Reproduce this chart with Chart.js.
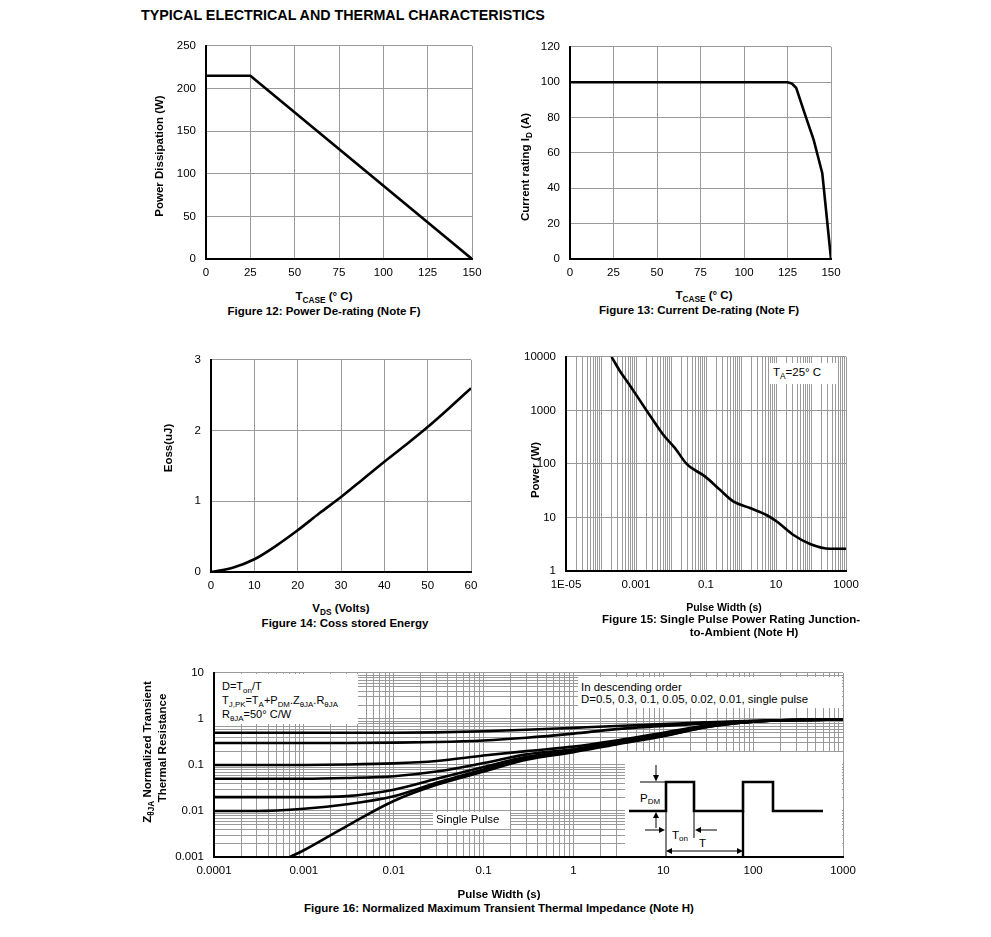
<!DOCTYPE html>
<html><head><meta charset="utf-8">
<script src="https://cdn.jsdelivr.net/npm/chart.js@4/dist/chart.umd.min.js"></script>
<style>
html,body{margin:0;padding:0;background:#fff;}
body{width:991px;height:937px;position:relative;overflow:hidden;font-family:"Liberation Sans",Arial,sans-serif;color:#000;}
.t{position:absolute;white-space:nowrap;line-height:1;z-index:5;}
.c{transform:translate(-50%,-50%);}
.l{transform:translateY(-50%);}
.r{transform:translate(-50%,-50%) rotate(-90deg);}
.b{font-weight:bold;}
.s{font-size:0.72em;vertical-align:-0.3em;}
.box{position:absolute;background:#fff;z-index:4;}
canvas{position:absolute;z-index:1;}
</style></head><body>

<div class="t b l" style="left:141px;top:15px;font-size:14.3px;">TYPICAL ELECTRICAL AND THERMAL CHARACTERISTICS</div>

<!-- Fig 12 texts -->
<div class="t b c" style="left:324px;top:298px;font-size:11.5px;">T<span class="s">CASE</span> (° C)</div>
<div class="t b c" style="left:324px;top:312px;font-size:11.5px;">Figure 12: Power De-rating (Note F)</div>
<div class="t b r" style="left:160px;top:156px;font-size:11.5px;">Power Dissipation (W)</div>

<!-- Fig 13 texts -->
<div class="t b c" style="left:704px;top:297px;font-size:11.5px;">T<span class="s">CASE</span> (° C)</div>
<div class="t b c" style="left:699px;top:311px;font-size:11.5px;">Figure 13: Current De-rating (Note F)</div>
<div class="t b r" style="left:527px;top:167px;font-size:11.5px;">Current rating I<span class="s">D</span> (A)</div>

<!-- Fig 14 texts -->
<div class="t b c" style="left:341px;top:610px;font-size:11.5px;">V<span class="s">DS</span> (Volts)</div>
<div class="t b c" style="left:345px;top:624px;font-size:11.5px;">Figure 14: Coss stored Energy</div>
<div class="t b r" style="left:169px;top:448px;font-size:11.5px;">Eoss(uJ)</div>

<!-- Fig 15 texts -->
<div class="t b c" style="left:724px;top:607px;font-size:10.5px;">Pulse Width (s)</div>
<div class="t b c" style="left:731px;top:620px;font-size:11.5px;">Figure 15: Single Pulse Power Rating Junction-</div>
<div class="t b c" style="left:744px;top:633px;font-size:11.5px;">to-Ambient (Note H)</div>
<div class="t b r" style="left:536px;top:470px;font-size:11.5px;">Power (W)</div>
<div class="box" style="left:770px;top:363px;width:67px;height:21px;"></div>
<div class="t l" style="left:773px;top:374px;font-size:11.5px;">T<span class="s">A</span>=25° C</div>

<!-- Fig 16 texts -->
<div class="t b c" style="left:499px;top:895px;font-size:11.5px;">Pulse Width (s)</div>
<div class="t b c" style="left:499px;top:909px;font-size:11.5px;">Figure 16: Normalized Maximum Transient Thermal Impedance (Note H)</div>
<div class="t b r" style="left:149px;top:752px;font-size:11.5px;">Z<span class="s">θJA</span> Normalized Transient</div>
<div class="t b r" style="left:163px;top:748px;font-size:11.5px;">Thermal Resistance</div>

<div class="box" style="left:215px;top:674px;width:143px;height:50px;"></div>
<div class="t l" style="left:222px;top:688px;font-size:11px;">D=T<span class="s">on</span>/T</div>
<div class="t l" style="left:222px;top:702px;font-size:11px;">T<span class="s">J,PK</span>=T<span class="s">A</span>+P<span class="s">DM</span>.Z<span class="s">θJA</span>.R<span class="s">θJA</span></div>
<div class="t l" style="left:222px;top:716px;font-size:11px;">R<span class="s">θJA</span>=50° C/W</div>

<div class="box" style="left:578px;top:677px;width:264px;height:31px;"></div>
<div class="t l" style="left:581px;top:688px;font-size:11.4px;">In descending order</div>
<div class="t l" style="left:581px;top:700px;font-size:11.4px;">D=0.5, 0.3, 0.1, 0.05, 0.02, 0.01, single pulse</div>

<div class="box" style="left:433px;top:812px;width:77px;height:17px;"></div>
<div class="t l" style="left:436px;top:820px;font-size:11.4px;">Single Pulse</div>

<svg style="position:absolute;left:625px;top:752px;z-index:4;background:#fff;" width="217" height="104" viewBox="0 0 217 104">
  <polyline points="4,59 41,59 41,30 69,30 69,59 118,59 118,30 148,30 148,59 198,59" fill="none" stroke="#000" stroke-width="2.6"/>
  <line x1="118" y1="59" x2="118" y2="104" stroke="#000" stroke-width="2.4"/>
  <line x1="41" y1="59" x2="41" y2="104" stroke="#000" stroke-width="1"/>
  <line x1="69" y1="59" x2="69" y2="86" stroke="#000" stroke-width="1"/>
  <line x1="15" y1="30" x2="41" y2="30" stroke="#000" stroke-width="1"/>
  <line x1="31" y1="13" x2="31" y2="25" stroke="#000" stroke-width="1"/>
  <polygon points="28,23 34,23 31,29.5" fill="#000"/>
  <line x1="31" y1="76" x2="31" y2="65" stroke="#000" stroke-width="1"/>
  <polygon points="28,66 34,66 31,60" fill="#000"/>
  <line x1="20" y1="78" x2="35" y2="78" stroke="#000" stroke-width="1"/>
  <polygon points="34,75 34,81 40,78" fill="#000"/>
  <line x1="92" y1="78" x2="75" y2="78" stroke="#000" stroke-width="1"/>
  <polygon points="76,75 76,81 70,78" fill="#000"/>
  <line x1="46" y1="99" x2="113" y2="99" stroke="#000" stroke-width="1"/>
  <polygon points="47,96 47,102 41,99" fill="#000"/>
  <polygon points="112,96 112,102 118,99" fill="#000"/>
  <text x="15" y="50" font-family="Liberation Sans, Arial, sans-serif" font-size="11.5">P<tspan font-size="8" dy="2">DM</tspan></text>
  <text x="47" y="87" font-family="Liberation Sans, Arial, sans-serif" font-size="11.5">T<tspan font-size="8" dy="2">on</tspan></text>
  <text x="74" y="95" font-family="Liberation Sans, Arial, sans-serif" font-size="11.5">T</text>
</svg>

<script>
// ---------------- DATA ----------------
// Figure 12: Power De-rating
const fig12Temp = [0, 25, 150];
const fig12Power = [215, 215, 0];
// Figure 13: Current De-rating
const fig13Temp = [0, 125, 127.5, 130, 135, 140, 145, 150];
const fig13Current = [100, 100, 99.3, 96.8, 82, 67.5, 48.5, 0];
// Figure 14: Coss stored energy
const fig14Vds = [0, 5, 10, 15, 20, 25, 30, 35, 40, 45, 50, 55, 60];
const fig14Eoss = [0, 0.06, 0.18, 0.37, 0.59, 0.83, 1.06, 1.31, 1.56, 1.8, 2.05, 2.32, 2.6];
// Figure 15: Single pulse power rating
const fig15Pulse = [2e-4, 3.5e-4, 7e-4, 2e-3, 6e-3, 0.013, 0.028, 0.095, 0.25, 0.6, 1.8, 5.5, 10.5, 31.5, 94, 350, 1000];
const fig15Power = [10000, 5400, 2800, 1000, 352, 198, 100, 58, 33, 20, 15, 11, 8.4, 4.7, 3.2, 2.6, 2.6];
const fig15XLabels = ['1E-05', '0.001', '0.1', '10', '1000'];
const fig15YLabels = ['1', '10', '100', '1000', '10000'];
// Figure 16: Normalized transient thermal impedance
const fig16Pulse = [1e-4, 3e-4, 1e-3, 3e-3, 0.01, 0.03, 0.1, 0.3, 1, 3, 10, 30, 100, 300, 1000];
const fig16D05  = [0.5, 0.5, 0.5, 0.5, 0.5, 0.51, 0.54, 0.58, 0.64, 0.7, 0.77, 0.84, 0.91, 0.95, 0.97];
const fig16D03  = [0.3, 0.3, 0.3, 0.3, 0.305, 0.315, 0.34, 0.39, 0.48, 0.6, 0.7, 0.8, 0.9, 0.95, 0.97];
const fig16D01  = [0.1, 0.1, 0.1, 0.102, 0.108, 0.122, 0.16, 0.2, 0.25, 0.34, 0.5, 0.72, 0.88, 0.95, 0.97];
const fig16D005 = [0.05, 0.05, 0.05, 0.052, 0.057, 0.072, 0.11, 0.17, 0.22, 0.32, 0.48, 0.7, 0.88, 0.95, 0.97];
const fig16D002 = [0.02, 0.02, 0.02, 0.021, 0.029, 0.05, 0.09, 0.15, 0.21, 0.3, 0.45, 0.68, 0.87, 0.95, 0.97];
const fig16D001 = [0.01, 0.01, 0.0112, 0.014, 0.021, 0.041, 0.08, 0.14, 0.2, 0.29, 0.43, 0.67, 0.87, 0.95, 0.97];
const fig16SinglePulseX = [7e-4, 1e-3, 3e-3, 0.01, 0.03, 0.1, 0.3, 1, 3, 10, 30, 100, 300, 1000];
const fig16SinglePulse  = [0.001, 0.0014, 0.0047, 0.0165, 0.037, 0.072, 0.13, 0.19, 0.28, 0.42, 0.66, 0.87, 0.95, 0.97];
const fig16XLabels = ['0.0001', '0.001', '0.01', '0.1', '1', '10', '100', '1000'];
const fig16YLabels = ['0.001', '0.01', '0.1', '1', '10'];

// ---------------- HELPERS ----------------
const FONT = '"Liberation Sans", Arial, sans-serif';
const GRID = '#9a9a9a';
const CLEAR = 'rgba(0,0,0,0)';
function pts(xs, ys) { return xs.map((x, i) => ({x: x, y: ys[i]})); }
function line(xs, ys, smooth) {
  return {data: pts(xs, ys), borderColor: '#000', borderWidth: 2.6, pointRadius: 0, fill: false,
          tension: 0, cubicInterpolationMode: smooth ? 'monotone' : 'default', borderJoinStyle: 'round'};
}
function gridColor(ctx) { return ctx.index === 0 ? CLEAR : GRID; }
function tickFont() { return {family: FONT, size: 11.5}; }
function linScale(pos, min, max, step) {
  return {type: 'linear', position: pos, min: min, max: max,
    ticks: {stepSize: step, padding: pos === 'left' ? 10 : 7, color: '#000', font: tickFont(), autoSkip: false, maxRotation: 0},
    grid: {color: gridColor, lineWidth: 1, drawTicks: false},
    border: {display: true, color: '#000', width: 2}};
}
function decadeTicks(e0, e1, minors) {
  const t = [];
  for (let e = e0; e <= e1; e++) {
    if (e === e1) { t.push(Math.pow(10, e)); break; }
    for (let m = 1; m <= 9; m++) {
      if (m === 1 || minors) t.push(parseFloat((m * Math.pow(10, e)).toPrecision(6)));
    }
  }
  return t;
}
function logScale(pos, e0, e1, minors, labels, labelStep) {
  const vals = decadeTicks(e0, e1, minors);
  return {type: 'logarithmic', position: pos, min: Math.pow(10, e0), max: Math.pow(10, e1),
    afterBuildTicks: s => { s.ticks = vals.map(v => ({value: v})); },
    ticks: {padding: pos === 'left' ? 10 : 7, color: '#000', font: tickFont(), autoSkip: false, maxRotation: 0,
      callback: function (v) {
        const e = Math.log10(v);
        const r = Math.round(e);
        if (Math.abs(e - r) > 1e-6) return '';
        const k = r - e0;
        if (k % labelStep !== 0) return '';
        return labels[k / labelStep];
      }},
    grid: {color: gridColor, lineWidth: 1, drawTicks: false},
    border: {display: true, color: '#000', width: 2}};
}
function build(w, h, left, top, datasets, xScale, yScale, padT, padR) {
  const c = document.createElement('canvas');
  c.width = w; c.height = h;
  c.style.left = left + 'px'; c.style.top = top + 'px';
  document.body.appendChild(c);
  const chart = new Chart(c, {type: 'line', data: {datasets: datasets},
    options: {responsive: false, maintainAspectRatio: false, animation: false, devicePixelRatio: 1,
      layout: {padding: {left: 0, top: padT, right: padR, bottom: 0}},
      plugins: {legend: {display: false}, tooltip: {enabled: false}, title: {display: false}},
      scales: {x: xScale, y: yScale}}});
  return {c: c, chart: chart};
}
function makeChart(L, T, R, B, datasets, xScale, yScale) {
  const padL = 70, padT = 12, padR = 26, padB = 30;
  xScale.afterFit = s => { s.height = padB; };
  yScale.afterFit = s => { s.width = padL; };
  let w = R - L + padL + padR, h = B - T + padT + padB;
  // first pass: measure where the library puts the plot area
  let r = build(w, h, L - padL, T - padT, datasets, xScale, yScale, padT, padR);
  const ca = r.chart.chartArea;
  const dw = (R - L) - (ca.right - ca.left);
  const dh = (B - T) - (ca.bottom - ca.top);
  const offL = ca.left, offT = ca.top;
  r.chart.destroy(); r.c.remove();
  // second pass: corrected canvas size and position
  w = Math.round(w + dw); h = Math.round(h + dh);
  r = build(w, h, Math.round(L - offL), Math.round(T - offT), datasets, xScale, yScale, padT, padR);
  return r.chart;
}

// ---------------- CHARTS ----------------
makeChart(206, 46, 472, 259, [line(fig12Temp, fig12Power, false)],
  linScale('bottom', 0, 150, 25), linScale('left', 0, 250, 50));
makeChart(570, 47, 831, 259, [line(fig13Temp, fig13Current, false)],
  linScale('bottom', 0, 150, 25), linScale('left', 0, 120, 20));
makeChart(211, 360, 471, 572, [line(fig14Vds, fig14Eoss, true)],
  linScale('bottom', 0, 60, 10), linScale('left', 0, 3, 1));
makeChart(566, 357, 846, 571, [line(fig15Pulse, fig15Power, true)],
  logScale('bottom', -5, 3, true, fig15XLabels, 2), logScale('left', 0, 4, false, fig15YLabels, 1));
makeChart(214, 673, 843, 857, [
    line(fig16Pulse, fig16D05, true), line(fig16Pulse, fig16D03, true), line(fig16Pulse, fig16D01, true),
    line(fig16Pulse, fig16D005, true), line(fig16Pulse, fig16D002, true), line(fig16Pulse, fig16D001, true),
    line(fig16SinglePulseX, fig16SinglePulse, true)],
  logScale('bottom', -4, 3, true, fig16XLabels, 1), logScale('left', -3, 1, true, fig16YLabels, 1));
</script>
</body></html>
